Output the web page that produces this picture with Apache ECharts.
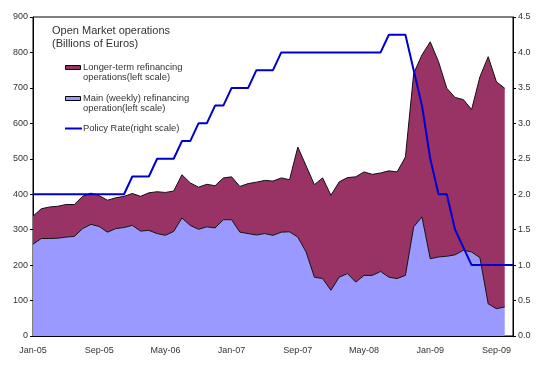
<!DOCTYPE html>
<html>
<head>
<meta charset="utf-8">
<script src="https://cdn.jsdelivr.net/npm/echarts@6/dist/echarts.min.js"></script>
<style>html,body{margin:0;padding:0;background:#fff}#c{width:537px;height:367px}</style>
</head>
<body>
<div id="c"></div>
<script>
const months = ['Jan-05','Feb-05','Mar-05','Apr-05','May-05','Jun-05','Jul-05','Aug-05','Sep-05','Oct-05','Nov-05','Dec-05',
'Jan-06','Feb-06','Mar-06','Apr-06','May-06','Jun-06','Jul-06','Aug-06','Sep-06','Oct-06','Nov-06','Dec-06',
'Jan-07','Feb-07','Mar-07','Apr-07','May-07','Jun-07','Jul-07','Aug-07','Sep-07','Oct-07','Nov-07','Dec-07',
'Jan-08','Feb-08','Mar-08','Apr-08','May-08','Jun-08','Jul-08','Aug-08','Sep-08','Oct-08','Nov-08','Dec-08',
'Jan-09','Feb-09','Mar-09','Apr-09','May-09','Jun-09','Jul-09','Aug-09','Sep-09','Oct-09','Nov-09'];

const mainOps = [259,275,275,276,279,281,303,315,309,293,
303,306,312,296,298,289,284,295,333,312,
301,308,305,328,328,293,289,285,289,284,
293,294,279,237,166,162,129,166,176,152,
171,171,182,166,162,171,308,336,218,223,
225,229,242,237,221,91,77,82,null];

const longerTermOps = [79,84,89,90,92,90,91,88,87,90,
87,88,90,98,106,118,121,114,122,120,
119,120,119,118,121,129,141,149,150,153,
153,147,254,243,261,284,268,269,271,297,
292,285,278,300,301,334,433,457,612,551,
474,444,425,402,510,697,640,617,null];

const policyRate = [2.0,2.0,2.0,2.0,2.0,2.0,2.0,2.0,2.0,2.0,2.0,2.0,
2.25,2.25,2.25,2.5,2.5,2.5,2.75,2.75,3.0,3.0,3.25,3.25,
3.5,3.5,3.5,3.75,3.75,3.75,
4.0,4.0,4.0,4.0,4.0,4.0,4.0,4.0,4.0,4.0,4.0,4.0,4.0,
4.25,4.25,4.25,3.75,3.25,2.5,2.0,2.0,1.5,1.25,
1.0,1.0,1.0,1.0,1.0,1.0];

const seriesNames = ['Main (weekly) refinancing operation(left scale)','Longer-term refinancing operations(left scale)','Policy Rate(right scale)'];
const titleLines = ['Open Market operations','(Billions of Euros)'];

const C_MAIN = '#9999FF', C_LTRO = '#993366', C_RATE = '#0000CC';
const FONT = 'Liberation Sans, Arial, sans-serif';
const TXT = '#333333';

const chart = echarts.init(document.getElementById('c'), null, {renderer:'canvas'});
const legendText = (x, y, s) => ({type:'text', left:x, top:y, style:{text:s, font:'9.4px ' + FONT, fill:TXT}});
chart.setOption({
  animation:false,
  backgroundColor:'#fff',
  title:{text:titleLines.join('\n'), left:52, top:25, padding:0,
    textStyle:{fontFamily:FONT, fontSize:11, fontWeight:'normal', color:TXT, lineHeight:12.5}},
  grid:{left:33, right:24, top:17, bottom:31, show:true, borderColor:'#000', borderWidth:1, backgroundColor:'transparent'},
  xAxis:{type:'category', data:months, boundaryGap:false,
    axisLine:{lineStyle:{color:'#000', width:1}},
    axisTick:{inside:true, length:4, interval:3, lineStyle:{color:'#000'}},
    axisLabel:{interval:7, margin:10, fontFamily:FONT, fontSize:9, color:TXT},
    splitLine:{show:false}},
  yAxis:[
    {type:'value', min:0, max:900, interval:100,
      axisLine:{show:true, lineStyle:{color:'#000'}},
      axisTick:{show:true, length:3, lineStyle:{color:'#000'}},
      axisLabel:{margin:5, fontFamily:FONT, fontSize:9, color:TXT},
      splitLine:{show:false}},
    {type:'value', min:0, max:4.5, interval:0.5, position:'right',
      axisLine:{show:true, lineStyle:{color:'#000'}},
      axisTick:{show:true, length:3, lineStyle:{color:'#000'}},
      axisLabel:{margin:5, fontFamily:FONT, fontSize:9, color:TXT, formatter:v=>v.toFixed(1)},
      splitLine:{show:false}}
  ],
  series:[
    {name:seriesNames[0], type:'line', stack:'ops', data:mainOps, symbol:'none',
      itemStyle:{color:C_MAIN}, lineStyle:{color:'#111', width:1}, areaStyle:{color:C_MAIN, opacity:1}, z:2},
    {name:seriesNames[1], type:'line', stack:'ops', data:longerTermOps, symbol:'none',
      itemStyle:{color:C_LTRO}, lineStyle:{color:'#111', width:1}, areaStyle:{color:C_LTRO, opacity:1}, z:2},
    {name:seriesNames[2], type:'line', yAxisIndex:1, data:policyRate, symbol:'none',
      itemStyle:{color:C_RATE}, lineStyle:{color:C_RATE, width:2}, z:5}
  ],
  graphic:[
    {type:'rect', shape:{x:65.5, y:65.5, width:15, height:4}, style:{fill:C_LTRO, stroke:'#000', lineWidth:1}},
    legendText(83, 63, 'Longer-term refinancing'),
    legendText(83, 73, 'operations(left scale)'),
    {type:'rect', shape:{x:65.5, y:96.5, width:15, height:4}, style:{fill:C_MAIN, stroke:'#000', lineWidth:1}},
    legendText(83, 94, 'Main (weekly) refinancing'),
    legendText(83, 104, 'operation(left scale)'),
    {type:'line', shape:{x1:65, y1:128.5, x2:82, y2:128.5}, style:{stroke:C_RATE, lineWidth:2}},
    legendText(83, 124, 'Policy Rate(right scale)')
  ]
});
</script>
</body>
</html>
